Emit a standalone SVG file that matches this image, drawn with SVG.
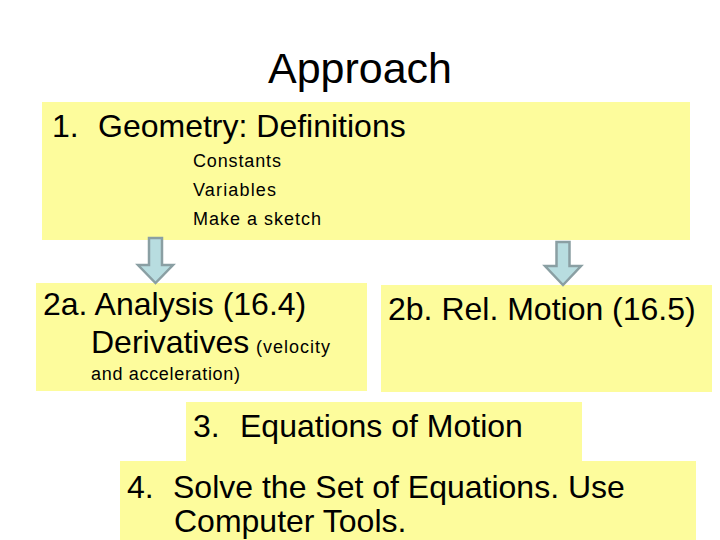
<svg xmlns="http://www.w3.org/2000/svg" width="720" height="540" viewBox="0 0 720 540">
<defs>
<style>
.box{fill:#fdfc9c;}
.t{font-family:"Liberation Sans",Arial,sans-serif;fill:#000;}
.big{font-size:32px;}
.sm{font-size:18px;}
.arr{fill:#b8dde0;stroke:#8a9fa3;stroke-width:2.5;stroke-linejoin:miter;}
</style>
</defs>
<rect width="720" height="540" fill="#ffffff"/>
<text class="t" x="360" y="83" font-size="43" text-anchor="middle">Approach</text>
<g id="node1">
<rect class="box" x="42" y="102" width="648" height="138"/>
<text class="t big" x="52" y="137">1.<tspan x="98">Geometry: Definitions</tspan></text>
<text class="t sm" x="193" y="167" textLength="88" lengthAdjust="spacing">Constants</text>
<text class="t sm" x="193" y="196" textLength="83" lengthAdjust="spacing">Variables</text>
<text class="t sm" x="193" y="225" textLength="128" lengthAdjust="spacing">Make a sketch</text>
</g>
<g id="node2a">
<rect class="box" x="36" y="283" width="331" height="108"/>
<text class="t big" x="43" y="315">2a. Analysis (16.4)</text>
<text class="t big" x="91" y="353">Derivatives</text>
<text class="t sm" x="256" y="353" textLength="74" lengthAdjust="spacing">(velocity</text>
<text class="t sm" x="91" y="380" textLength="149" lengthAdjust="spacing">and acceleration)</text>
</g>
<g id="node2b">
<rect class="box" x="381" y="285" width="331" height="107"/>
<text class="t big" x="388" y="320">2b. Rel. Motion (16.5)</text>
</g>
<g id="node3">
<rect class="box" x="186" y="402" width="396" height="60"/>
<text class="t big" x="193" y="437">3.<tspan x="240">Equations of Motion</tspan></text>
</g>
<g id="node4">
<rect class="box" x="120" y="461" width="576" height="79"/>
<text class="t big" x="127" y="498">4.<tspan x="173">Solve the Set of Equations. Use</tspan></text>
<text class="t big" x="174" y="532">Computer Tools.</text>
</g>
<g id="connectors">
<path class="arr" d="M149,238 L162,238 L162,265 L173,265 L155.5,283 L138,265 L149,265 Z"/>
<path class="arr" d="M556.5,242 L569.5,242 L569.5,266 L581,266 L563,285 L545,266 L556.5,266 Z"/>
</g>
</svg>
